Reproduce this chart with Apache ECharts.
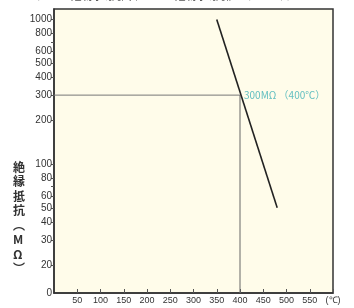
<!DOCTYPE html>
<html>
<head>
<meta charset="utf-8">
<script src="https://cdn.jsdelivr.net/npm/echarts@6/dist/echarts.min.js"></script>
<style>
    html,body{margin:0;padding:0;background:#fff;}
    #main{width:354px;height:308px;}
</style>
</head>
<body>
<div id="main"></div>
<script>
// 絶縁抵抗 - 温度
let tempC = [350, 480];
let resistance = [1000, 50];
let refTemp = 400;
let refRes = 300;
let yTickValues = [20, 30, 40, 50, 60, 70, 80, 100, 200, 300, 400, 500, 600, 700, 800, 1000];
let yLabelValues = [12.9, 20, 30, 40, 50, 60, 80, 100, 200, 300, 400, 500, 600, 800, 1000];
let yMin = 12.9;
let yMax = 1180;

let myEcharts = echarts.init(document.getElementById("main"));

let lineData = tempC.map(function (t, i) {
    return [t, resistance[i]];
});

let option = {
    animation: false,
    textStyle: {fontFamily: "Liberation Sans Narrow, Liberation Sans"},
    grid: {
        left: 54, right: 21, top: 9, bottom: 15,
        show: true,
        backgroundColor: "#fffcea",
        borderColor: "#333",
        borderWidth: 1.5
    },
    graphic: [
        {
            type: "text", left: 27, top: -12,
            style: {
                text: "（500V絶縁抵抗計による絶縁抵抗値（R－T））",
                fill: "#555", fontSize: 13, fontFamily: "Noto Sans CJK JP"
            }
        },
        {
            type: "text", left: 13, top: 160,
            style: {
                text: "絶\n縁\n抵\n抗\n︵\nM\nΩ\n︶",
                fill: "#333", fontSize: 12, lineHeight: 14.5, fontWeight: "bold",
                fontFamily: "Noto Sans CJK JP", align: "center", x: 7
            }
        }
    ],
    xAxis: {
        type: "value",
        min: 0, max: 600, interval: 50,
        splitLine: {show: false},
        axisLine: {lineStyle: {color: "#333", width: 1.5}},
        axisTick: {inside: true, length: 4, lineStyle: {color: "#555"}},
        axisLabel: {
            color: "#333", fontSize: 9, margin: 3,
            showMinLabel: false,
            formatter: function (v) {
                if (v === 600) return "(℃)";
                return v;
            }
        }
    },
    yAxis: {
        type: "log",
        logBase: 10,
        min: yMin, max: yMax,
        splitLine: {show: false},
        axisLine: {show: true, lineStyle: {color: "#333", width: 1.5}},
        axisTick: {length: 3, customValues: yTickValues, lineStyle: {color: "#555"}},
        axisLabel: {
            color: "#333", fontSize: 10, margin: 2,
            customValues: yLabelValues,
            formatter: function (v) {
                if (v < 15) return "0";
                return Math.round(v);
            }
        }
    },
    series: [
        {
            // 基準線 300MΩ
            type: "line",
            data: [[0, refRes], [refTemp, refRes]],
            symbol: "none",
            lineStyle: {color: "#777", width: 1}
        },
        {
            // 基準線 400℃
            type: "line",
            data: [[refTemp, refRes], [refTemp, yMin]],
            symbol: "none",
            lineStyle: {color: "#666", width: 1}
        },
        {
            type: "line",
            data: lineData,
            symbol: "none",
            lineStyle: {color: "#222", width: 1.6},
            z: 3
        },
        {
            type: "scatter",
            data: [[refTemp, refRes]],
            symbolSize: 0,
            label: {
                show: true,
                position: "right",
                distance: 4,
                color: "#3aafb5",
                fontSize: 10,
                fontFamily: "Noto Sans CJK JP",
                formatter: "300MΩ （400℃）"
            }
        }
    ]
};
myEcharts.setOption(option);
</script>
</body>
</html>
